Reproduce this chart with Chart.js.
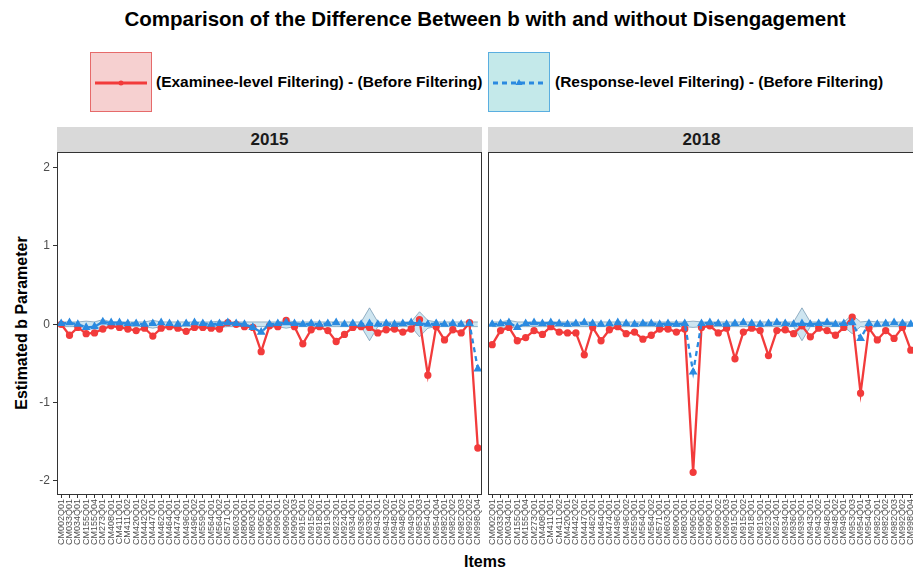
<!DOCTYPE html>
<html>
<head>
<meta charset="utf-8">
<script src="https://cdn.jsdelivr.net/npm/chart.js@4.4.1/dist/chart.umd.min.js"></script>
<style>
  body { margin: 0; width: 913px; height: 574px; background: #fff; overflow: hidden; position: relative;
         font-family: "Liberation Sans", Arial, sans-serif; color: #000; }
  .abs { position: absolute; }
  #title { left: 0; width: 970px; top: 7px; text-align: center; font-size: 20.5px; font-weight: bold; }
  .key { width: 60px; height: 58px; }
  .ktxt { font-size: 15.5px; font-weight: bold; top: 73px; white-space: nowrap; }
  .strip { top: 127px; height: 25px; background: #d9d9d9; text-align: center; line-height: 26px;
           font-size: 17px; font-weight: bold; color: #1a1a1a; }
  #ytitle { left: 22px; top: 323px; transform: translate(-50%, -50%) rotate(-90deg); font-size: 16px;
            font-weight: bold; white-space: nowrap; }
  #xtitle { left: 0; width: 970px; top: 553px; text-align: center; font-size: 16px; font-weight: bold; }
</style>
</head>
<body>
<div id="title" class="abs">Comparison of the Difference Between b with and without Disengagement</div>

<div class="abs key" style="left:90px;top:52px;background:#f6d0d0;border:1px solid #e66a6a;">
  <svg width="60" height="58"><line x1="4" y1="30" x2="56" y2="30" stroke="#f23b3b" stroke-width="3"/><circle cx="30" cy="30" r="2.5" fill="#f23b3b"/></svg>
</div>
<div class="abs ktxt" style="left:156px;">(Examinee-level Filtering) - (Before Filtering)</div>
<div class="abs key" style="left:488px;top:52px;background:#c4e9ea;border:1px solid #5aaee0;">
  <svg width="60" height="58"><line x1="4" y1="30" x2="56" y2="30" stroke="#2a8ae0" stroke-width="3" stroke-dasharray="5,4"/><polygon points="30,26 33.5,32 26.5,32" fill="#2a8ae0"/></svg>
</div>
<div class="abs ktxt" style="left:555px;">(Response-level Filtering) - (Before Filtering)</div>

<div class="abs strip" style="left:57px;width:425px;">2015</div>
<div class="abs strip" style="left:488px;width:427px;">2018</div>
<div id="ytitle" class="abs">Estimated b Parameter</div>
<div id="xtitle" class="abs">Items</div>

<div class="abs" style="left:0;top:152px;width:484px;height:400px;"><canvas id="c2015"></canvas></div>
<div class="abs" style="left:486px;top:152px;width:429px;height:400px;"><canvas id="c2018"></canvas></div>

<script>
const items = ['CM002Q01','CM033Q01','CM034Q01','CM155Q01','CM155Q04','CM273Q01','CM408Q01','CM411Q01','CM411Q02',
  'CM420Q01','CM442Q02','CM447Q01','CM462Q01','CM464Q01','CM474Q01','CM496Q01','CM496Q02','CM559Q01','CM564Q01',
  'CM564Q02','CM571Q01','CM603Q01','CM800Q01','CM803Q01','CM905Q01','CM906Q01','CM909Q01','CM909Q02','CM909Q03',
  'CM915Q01','CM915Q02','CM918Q01','CM919Q01','CM923Q01','CM924Q01','CM934Q01','CM936Q01','CM939Q01','CM943Q01',
  'CM943Q02','CM948Q01','CM948Q02','CM949Q01','CM953Q03','CM954Q01','CM954Q04','CM982Q01','CM982Q02','CM982Q03',
  'CM992Q02','CM998Q04'];
const yTicks = [2, 1, 0, -1, -2];

// (Examinee-level) - (Before)
const examinee2015 = [0.0,-0.14,-0.04,-0.12,-0.11,-0.06,-0.02,-0.04,-0.06,-0.08,-0.05,-0.15,-0.05,-0.03,-0.05,-0.09,
  -0.04,-0.04,-0.05,-0.06,0.02,0.0,-0.03,-0.04,-0.35,-0.02,-0.03,0.05,-0.03,-0.25,-0.07,-0.03,-0.08,-0.22,-0.13,-0.04,
  -0.03,-0.04,-0.11,-0.07,-0.06,-0.10,-0.06,0.06,-0.65,-0.03,-0.20,-0.07,-0.11,0.02,-1.58];
const examinee2018 = [-0.26,-0.08,-0.04,-0.21,-0.17,-0.08,-0.13,-0.03,-0.10,-0.11,-0.11,-0.39,-0.04,-0.21,-0.07,-0.03,
  -0.12,-0.10,-0.19,-0.14,-0.06,-0.06,-0.10,-0.06,-1.89,-0.04,-0.02,-0.11,-0.05,-0.44,-0.10,-0.05,-0.08,-0.40,-0.08,
  -0.07,-0.12,-0.02,-0.16,-0.05,-0.08,-0.14,-0.04,0.09,-0.88,-0.05,-0.20,-0.08,-0.18,-0.04,-0.33];

// (Response-level) - (Before)
const response2015 = [0.01,0.02,0.0,-0.04,-0.03,0.03,0.02,0.02,0.01,0.01,0.0,0.01,0.02,0.01,0.0,0.01,0.02,0.01,0.0,
  0.01,0.02,0.01,0.0,-0.04,-0.10,0.0,0.01,0.02,0.01,0.0,0.01,0.0,0.01,0.02,0.0,0.01,0.0,0.01,0.0,0.01,0.0,0.01,0.02,
  0.01,0.0,0.01,0.0,0.01,0.0,0.01,-0.57];
const response2018 = [0.0,0.01,0.02,-0.04,0.01,0.02,0.01,0.02,0.01,0.0,0.01,0.02,0.01,0.0,0.01,0.02,0.01,0.0,0.01,
  0.01,0.0,0.01,0.0,0.01,-0.61,0.01,0.02,0.01,0.0,0.01,0.02,0.01,0.0,0.01,0.02,0.01,0.0,0.01,0.0,0.01,0.02,0.0,0.01,
  0.02,-0.18,0.01,0.0,0.01,0.02,0.01,0.0];

// half-width of the shaded band around zero
const band2015 = [0.03,0.03,0.03,0.04,0.03,0.06,0.03,0.03,0.03,0.03,0.03,0.05,0.03,0.03,0.03,0.03,0.03,0.03,0.03,
  0.04,0.03,0.03,0.03,0.03,0.03,0.03,0.03,0.05,0.03,0.03,0.03,0.03,0.03,0.03,0.03,0.03,0.03,0.21,0.03,0.03,0.03,0.03,
  0.03,0.16,0.05,0.03,0.03,0.03,0.03,0.03,0.03];
const band2018 = [0.03,0.03,0.05,0.03,0.03,0.03,0.03,0.03,0.03,0.03,0.03,0.03,0.03,0.03,0.03,0.03,0.03,0.03,0.03,
  0.03,0.03,0.03,0.03,0.03,0.04,0.03,0.03,0.03,0.03,0.03,0.03,0.03,0.03,0.03,0.03,0.03,0.03,0.21,0.03,0.03,0.03,0.03,
  0.03,0.12,0.03,0.04,0.03,0.03,0.03,0.03,0.03];

const RED = '#f23b3b', BLUE = '#2a8ae0';

// panel border
const boxPlugin = {
  id: 'box',
  afterDraw(chart) {
    const { ctx, chartArea: a } = chart;
    ctx.save();
    ctx.strokeStyle = '#333';
    ctx.lineWidth = 1;
    ctx.strokeRect(a.left + 0.5, a.top + 0.5, a.right - a.left - 1, a.bottom - a.top - 1);
    ctx.restore();
  }
};

function makePanel(id, examinee, response, band, showY, pad) {
  new Chart(document.getElementById(id), {
    type: 'line',
    data: {
      labels: items,
      datasets: [
        { data: band.map(w => w), borderColor: 'rgba(90,130,160,0.6)', borderWidth: 1, pointRadius: 0,
          backgroundColor: 'rgba(80,160,200,0.28)', fill: '+1', order: 4, tension: 0 },
        { data: band.map(w => -w), borderColor: 'rgba(90,130,160,0.6)', borderWidth: 1, pointRadius: 0,
          fill: false, order: 5, tension: 0 },
        { data: examinee, borderColor: RED, backgroundColor: RED, borderWidth: 2.3, pointRadius: 2.5,
          pointStyle: 'circle', order: 2, tension: 0 },
        { data: response, borderColor: BLUE, backgroundColor: BLUE, borderWidth: 2.3, borderDash: [5, 4],
          pointRadius: 2.8, pointStyle: 'triangle', order: 1, tension: 0 }
      ]
    },
    options: {
      responsive: true, maintainAspectRatio: false, animation: false,
      layout: { padding: pad, autoPadding: false },
      plugins: { legend: { display: false }, tooltip: { enabled: false } },
      scales: {
        x: {
          offset: true,
          grid: { display: true, drawOnChartArea: false, tickLength: 3, color: '#333' },
          border: { display: false },
          ticks: { autoSkip: false, minRotation: 90, maxRotation: 90, padding: 1, color: '#4d4d4d',
                   font: { family: 'Liberation Sans', size: 9 } },
          afterFit: s => { s.height = 57; s.paddingLeft = 0; s.paddingRight = 0; }
        },
        y: {
          display: showY, min: -2.18, max: 2.2,
          afterBuildTicks: s => { s.ticks = yTicks.map(v => ({ value: v })); },
          grid: { display: true, drawOnChartArea: false, tickLength: 4, color: '#333' },
          border: { display: false },
          ticks: { padding: 3, color: '#4d4d4d', font: { family: 'Liberation Sans', size: 12 } },
          afterFit: s => { s.width = showY ? 57 : 0; s.paddingTop = 0; s.paddingBottom = 0; }
        }
      }
    },
    plugins: [boxPlugin]
  });
}

makePanel('c2015', examinee2015, response2015, band2015, true, { right: 2, top: 0, left: 0, bottom: 0 });
makePanel('c2018', examinee2018, response2018, band2018, false, { left: 2, right: 0, top: 0, bottom: 0 });
</script>
</body>
</html>
